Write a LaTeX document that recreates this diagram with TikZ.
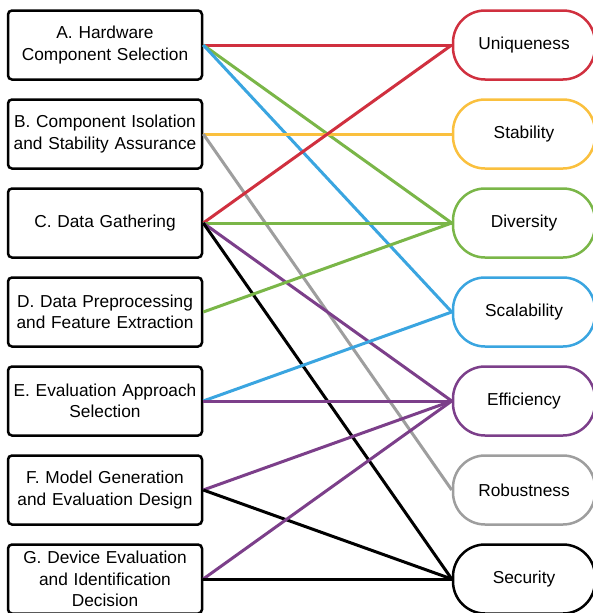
\documentclass[tikz,border=0pt]{standalone}
\usepackage{fontspec}
\setmainfont{Liberation Sans}
\usepackage{xcolor}
\usepackage{tikz}

\definecolor{cred}{HTML}{D0303F}
\definecolor{cyellow}{HTML}{FAC03E}
\definecolor{cgreen}{HTML}{7AB648}
\definecolor{cblue}{HTML}{3AA5E0}
\definecolor{cgray}{HTML}{9E9E9E}
\definecolor{cpurple}{HTML}{7C3F8A}

\tikzset{
    stage/.style={draw, line width=2.5pt, rounded corners=4pt, fill=white,
        minimum width=194pt, minimum height=69pt, text width=192pt, align=center,
        inner xsep=0pt, font=\fontsize{17.3}{21.5}\selectfont},
    goal/.style={draw, line width=2.5pt, rounded corners=32pt, fill=white,
        minimum width=142pt, minimum height=69pt,
        font=\fontsize{17.3}{21.5}\selectfont},
    link/.style={line width=3pt}
}

\begin{document}
\begin{tikzpicture}[x=1pt, y=-1pt]
        \useasboundingbox (0,0) rectangle (593,613);
        % stages
        \node[stage] (A) at (105,45) {A. Hardware\\Component Selection};
        \node[stage] (B) at (105,134) {B. Component Isolation\\and Stability Assurance};
        \node[stage] (C) at (105,223) {C. Data Gathering};
        \node[stage] (D) at (105,312) {D. Data Preprocessing\\and Feature Extraction};
        \node[stage] (E) at (105,401) {E. Evaluation Approach\\Selection};
        \node[stage] (F) at (105,490) {F. Model Generation\\and Evaluation Design};
        \node[stage] (G) at (105,579) {G. Device Evaluation\\and Identification\\Decision};
        % goals
        \node[goal, draw=cred] (uni) at (524,45) {Uniqueness};
        \node[goal, draw=cyellow] (sta) at (524,134) {Stability};
        \node[goal, draw=cgreen] (div) at (524,223) {Diversity};
        \node[goal, draw=cblue] (sca) at (524,312) {Scalability};
        \node[goal, draw=cpurple] (eff) at (524,401) {Efficiency};
        \node[goal, draw=cgray] (rob) at (524,490) {Robustness};
        \node[goal] (sec) at (524,579) {Security};
        % links
        \draw[link, cred] (A.east) -- (uni.west);
        \draw[link, cgreen] (A.east) -- (div.west);
        \draw[link, cblue] (A.east) -- (sca.west);
        \draw[link, cyellow] (B.east) -- (sta.west);
        \draw[link, cgray] (B.east) -- (rob.west);
        \draw[link, cred] (C.east) -- (uni.west);
        \draw[link, cgreen] (C.east) -- (div.west);
        \draw[link, cpurple] (C.east) -- (eff.west);
        \draw[link] (C.east) -- (sec.west);
        \draw[link, cgreen] (D.east) -- (div.west);
        \draw[link, cblue] (E.east) -- (sca.west);
        \draw[link, cpurple] (E.east) -- (eff.west);
        \draw[link, cpurple] (F.east) -- (eff.west);
        \draw[link] (F.east) -- (sec.west);
        \draw[link, cpurple] (G.east) -- (eff.west);
        \draw[link] (G.east) -- (sec.west);
    \end{tikzpicture}
\end{document}
